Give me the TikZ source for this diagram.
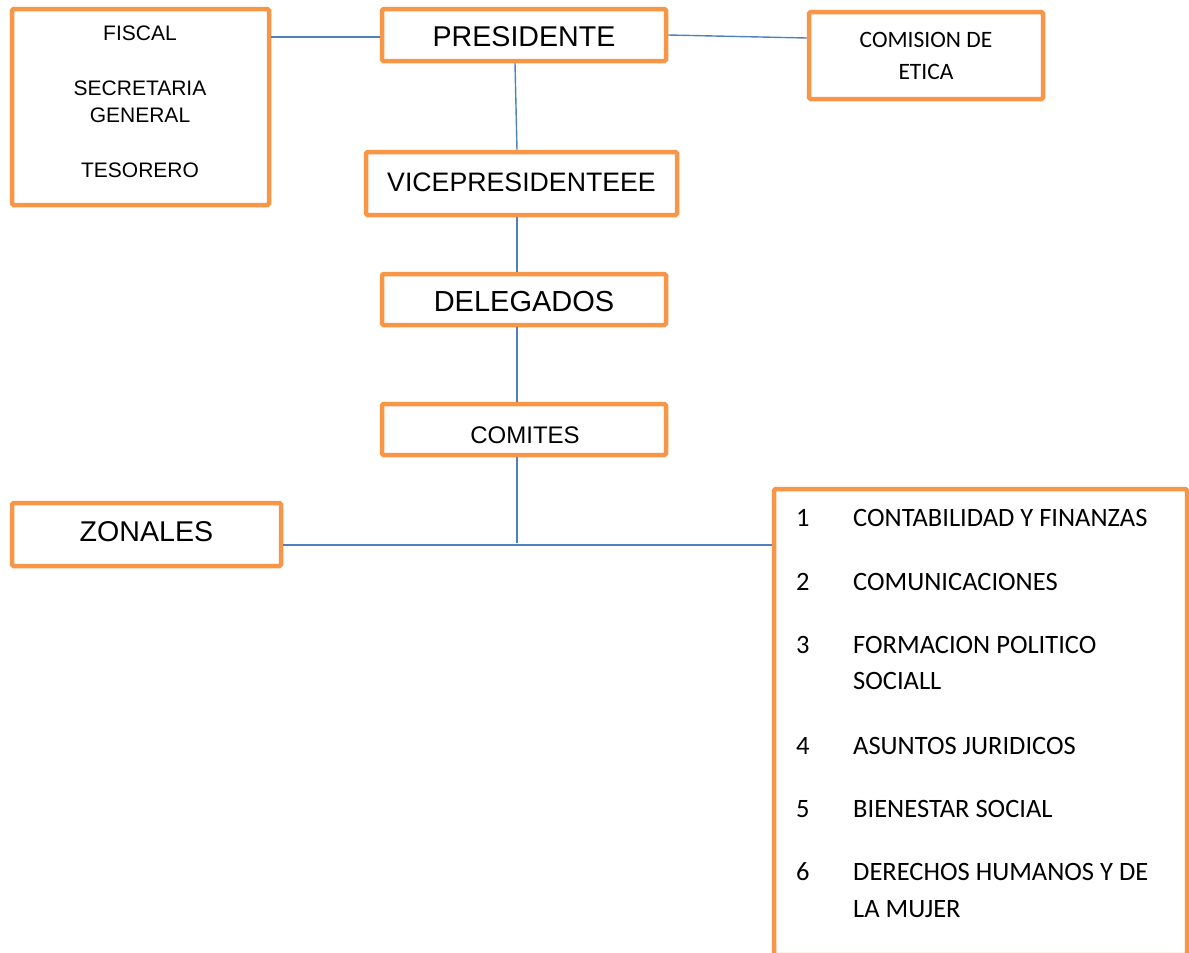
\documentclass[tikz,border=0pt]{standalone}
\usepackage{fontspec}
\setmainfont{Liberation Sans}
\newfontfamily\calibri{Carlito}
\usetikzlibrary{calc}
\definecolor{boxorange}{HTML}{F79646}
\definecolor{lineblue}{HTML}{4F81BD}
\tikzset{
  orgbox/.style={draw=boxorange, line width=4.5pt, fill=white, rounded corners=1.5pt, inner sep=0pt},
  link/.style={draw=lineblue, line width=1.4pt},
  txt/.style={inner sep=0pt, text=black},
}
\begin{document}
\begin{tikzpicture}[x=1pt,y=-1pt]
\useasboundingbox (0,0) rectangle (1189,953);
% boxes
\node[orgbox, minimum width=257pt, minimum height=196pt] (fiscal) at (140.5,107) {};
\node[orgbox, minimum width=284pt, minimum height=52pt] (pres) at (524,35) {};
\node[orgbox, minimum width=234pt, minimum height=87pt] (etica) at (926,55.5) {};
\node[orgbox, minimum width=311pt, minimum height=63pt] (vice) at (521.5,183.5) {};
\node[orgbox, minimum width=284pt, minimum height=51pt] (deleg) at (524,299.5) {};
\node[orgbox, minimum width=284pt, minimum height=51pt] (comites) at (524,429.5) {};
\node[orgbox, minimum width=269pt, minimum height=63pt] (zonales) at (146.5,534.5) {};
\node[orgbox, minimum width=413pt, minimum height=466pt] (lista) at (980.5,722) {};
% connectors
\coordinate (junc) at (517,545);
\draw[link] (fiscal.east |- 0,37) -- (pres.west |- 0,37);
\draw[link] (pres.east) -- ($(etica.west |- pres.east)+(0,3)$);
\draw[link] ([xshift=-9pt]pres.south) -- ([xshift=-4.5pt]vice.north);
\draw[link] ([xshift=-4.5pt]vice.south) -- ([xshift=-7pt]deleg.north);
\draw[link] ([xshift=-7pt]deleg.south) -- ([xshift=-7pt]comites.north);
\draw[link] ([xshift=-7pt]comites.south) -- ($(junc)+(0,-2)$);
\draw[link] (zonales.east |- junc) -- (lista.west |- junc);
% texts
\node[txt, font=\fontsize{21}{25}\selectfont] (t1) at (140,33) {FISCAL};
\node[txt, font=\fontsize{21}{25}\selectfont] (t2) at (140,88) {SECRETARIA};
\node[txt, font=\fontsize{21}{25}\selectfont] (t3) at (140,115) {GENERAL};
\node[txt, font=\fontsize{21}{25}\selectfont] (t4) at (140,170) {TESORERO};
\node[txt, font=\fontsize{28.6}{32}\selectfont] (t5) at (524,37) {PRESIDENTE};
\node[txt, font=\calibri\fontsize{23.5}{28}\selectfont] (t6) at (926,40) {COMISION DE};
\node[txt, font=\calibri\fontsize{23.5}{28}\selectfont] (t7) at (926,72) {ETICA};
\node[txt, font=\fontsize{26.7}{30}\selectfont] (t8) at (521.5,182) {VICEPRESIDENTEEE};
\node[txt, font=\fontsize{29}{33}\selectfont] (t9) at (524,302) {DELEGADOS};
\node[txt, font=\fontsize{24}{28}\selectfont] (t10) at (525,435) {COMITES};
\node[txt, font=\fontsize{28.6}{32}\selectfont] (t11) at (146.5,532) {ZONALES};
% list
\tikzset{num/.style={txt, font=\calibri\fontsize{26.5}{30}\selectfont, anchor=base west},
         item/.style={txt, font=\calibri\fontsize{26.5}{30}\selectfont, anchor=base west}}
\node[num] (n1) at (796,526) {1};
\node[item] (i1) at (853,526) {CONTABILIDAD Y FINANZAS};
\node[num] (n2) at (796,590) {2};
\node[item] (i2) at (853,590) {COMUNICACIONES};
\node[num] (n3) at (796,653) {3};
\node[item] (i3) at (853,653) {FORMACION POLITICO};
\node[item] (i3b) at (853,689) {SOCIALL};
\node[num] (n4) at (796,754) {4};
\node[item] (i4) at (853,754) {ASUNTOS JURIDICOS};
\node[num] (n5) at (796,817) {5};
\node[item] (i5) at (853,817) {BIENESTAR SOCIAL};
\node[num] (n6) at (796,880) {6};
\node[item] (i6) at (853,880) {DERECHOS HUMANOS Y DE};
\node[item] (i6b) at (853,917) {LA MUJER};
\end{tikzpicture}
\end{document}
